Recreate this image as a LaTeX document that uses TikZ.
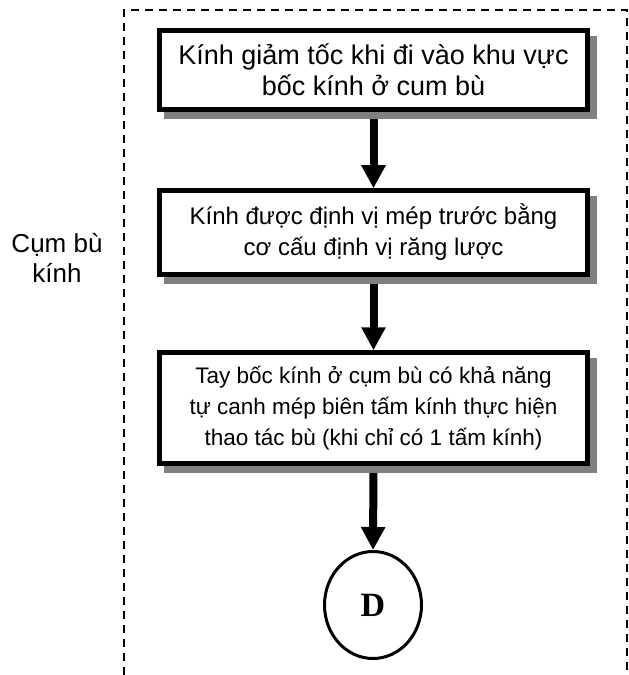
\documentclass[tikz,border=0pt]{standalone}
\usepackage{fontspec}
\setmainfont{Liberation Sans}
\newfontfamily\dfont{Liberation Serif}
\usetikzlibrary{arrows.meta,shadows,backgrounds}
\definecolor{shadowgray}{HTML}{808080}
\tikzset{
  stepbox/.style={draw, line width=4.5bp, fill=white, align=center,
    minimum width=428bp, inner sep=0pt,
    general shadow={fill=shadowgray, draw=shadowgray, shadow xshift=7bp, shadow yshift=-7.5bp}},
  flow/.style={line width=8bp, -{Triangle[width=23bp,length=23bp]}},
  frame/.style={line width=1.8bp, dash pattern=on 8bp off 6bp},
  endcircle/.style={draw, ellipse, line width=3bp, minimum width=97bp, minimum height=107bp, inner sep=0pt}
}
\usetikzlibrary{shapes.geometric}
\begin{document}
\begin{tikzpicture}[x=1bp, y=-1bp]
  \useasboundingbox (0,0) rectangle (629,675);
  % dashed frame of the group, open at the bottom
  \draw[frame] (124,675) -- (124,10) -- (627,10) -- (627,675);
  % group label
  \node[align=center, font=\fontsize{26bp}{30bp}\selectfont] (lbl) at (57,258) {Cụm bù\\kính};
  % process steps
  \node[stepbox, minimum height=79bp, font=\fontsize{27bp}{31bp}\selectfont] (s1) at (373.5,70)
    {Kính giảm tốc khi đi vào khu vực\\bốc kính ở cum bù};
  \node[stepbox, minimum height=84bp, font=\fontsize{24bp}{31bp}\selectfont] (s2) at (373.5,232.5)
    {Kính được định vị mép trước bằng\\cơ cấu định vị răng lược};
  \node[stepbox, minimum height=111bp, font=\fontsize{22.5bp}{31bp}\selectfont] (s3) at (373.5,408)
    {Tay bốc kính ở cụm bù có khả năng\\tự canh mép biên tấm kính thực hiện\\thao tác bù (khi chỉ có 1 tấm kính)};
  % off-page connector
  \node[endcircle] (d) at (373,605) {\dfont\bfseries\fontsize{34bp}{34bp}\selectfont D};
  % connectors behind the boxes and their shadows
  \begin{scope}[on background layer]
    \draw[flow] (s1.south) -- (s2.north);
    \draw[flow] (s2.south) -- (s3.north);
    \draw[flow] (s3.south) -- (d.north);
  \end{scope}
\end{tikzpicture}
\end{document}
